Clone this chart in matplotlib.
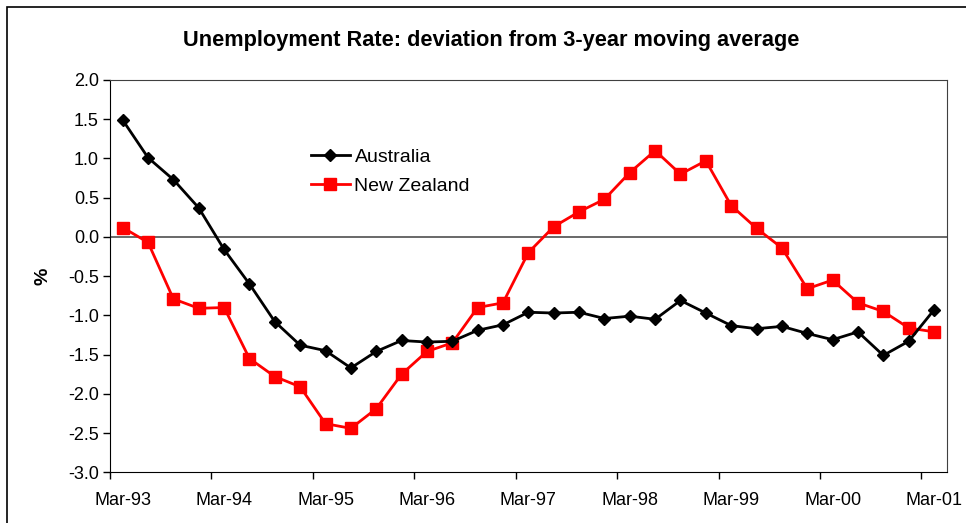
import matplotlib
matplotlib.use('Agg')
import matplotlib.pyplot as plt
from matplotlib.patches import Rectangle
import numpy as np

plt.rcParams['font.family'] = ['Liberation Sans', 'DejaVu Sans']

# quarterly, Mar-93 .. Mar-01
year_labels = ["Mar-93", "Mar-94", "Mar-95", "Mar-96", "Mar-97",
               "Mar-98", "Mar-99", "Mar-00", "Mar-01"]
australia = [1.49, 1.01, 0.73, 0.37, -0.16, -0.60, -1.08, -1.38, -1.45,
             -1.67, -1.46, -1.32, -1.34, -1.33, -1.19, -1.12, -0.96, -0.97,
             -0.96, -1.04, -1.01, -1.05, -0.81, -0.97, -1.13, -1.17, -1.14,
             -1.23, -1.31, -1.21, -1.51, -1.33, -0.93]
new_zealand = [0.12, -0.07, -0.79, -0.91, -0.90, -1.55, -1.78, -1.91, -2.38,
               -2.44, -2.19, -1.75, -1.46, -1.35, -0.90, -0.84, -0.20, 0.13,
               0.32, 0.48, 0.82, 1.10, 0.80, 0.97, 0.40, 0.11, -0.14,
               -0.66, -0.55, -0.84, -0.95, -1.16, -1.21]

x = np.arange(len(australia))

fig = plt.figure(figsize=(9.66, 5.23), dpi=100)
ax = fig.add_axes([110 / 966, 1 - 472.3 / 523, (946.7 - 110) / 966, (472.3 - 80) / 523])

# outer chart frame
fig.patches.append(Rectangle((7 / 966, -0.1), 1.2, 1 - 7 / 523 + 0.1,
                             transform=fig.transFigure, fill=False,
                             edgecolor='black', linewidth=1.2))

ax.axhline(0, color='#404040', linewidth=1.1, zorder=1)
ax.plot(x, australia, color='black', linewidth=2, marker='D', markersize=6.5,
        label='Australia', zorder=3)
ax.plot(x, new_zealand, color='#ff0000', linewidth=2, marker='s', markersize=8,
        label='New Zealand', zorder=2)

ax.set_xlim(-0.5, len(x) - 0.5)
ax.set_ylim(-3.0, 2.0)
ax.set_yticks(np.arange(-3.0, 2.01, 0.5))
ax.set_yticklabels([f"{v:.1f}" for v in np.arange(-3.0, 2.01, 0.5)])

label_pos = np.arange(0, len(x), 4)
ax.set_xticks(label_pos)
ax.set_xticklabels(year_labels)
ax.tick_params(axis='x', which='major', length=0, pad=14)
ax.set_xticks(label_pos - 0.5, minor=True)
ax.tick_params(axis='x', which='minor', length=5, direction='out', width=1)
ax.tick_params(axis='y', length=5, direction='out', width=1, pad=3)
ax.tick_params(labelsize=13)

for side in ['left', 'bottom']:
    ax.spines[side].set_color('black')
for side in ['top', 'right']:
    ax.spines[side].set_color('#404040')

ax.set_ylabel('%', fontsize=14, fontweight='bold', labelpad=12)
fig.text(0.508, 0.922, 'Unemployment Rate: deviation from 3-year moving average',
         ha='center', va='center', fontsize=15.7, fontweight='bold')

ax.legend(loc='upper left', bbox_to_anchor=(0.219, 0.87), frameon=False,
          fontsize=14, handlelength=2.0, handletextpad=0.25, labelspacing=0.56)

fig.savefig('out.png', dpi=100)
